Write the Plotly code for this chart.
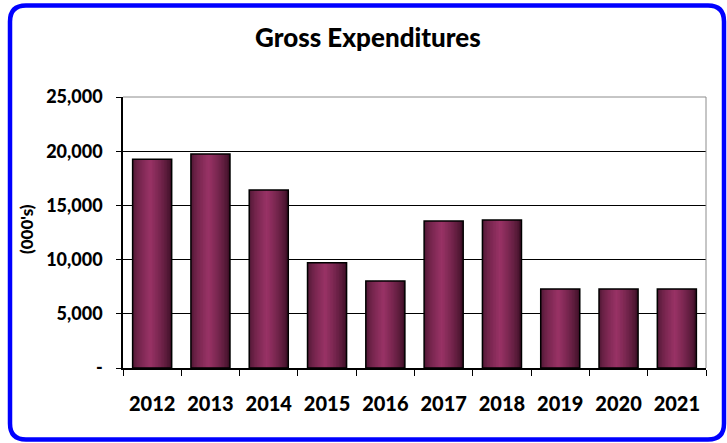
import plotly.graph_objects as go

# Gross expenditures by year, in thousands of dollars
years = ["2012", "2013", "2014", "2015", "2016", "2017", "2018", "2019", "2020", "2021"]
expenditures = [19250, 19740, 16420, 9700, 8030, 13560, 13650, 7290, 7290, 7290]

y_tick_values = [0, 5000, 10000, 15000, 20000, 25000]
y_tick_labels = ["-", "5,000", "10,000", "15,000", "20,000", "25,000"]

W, H = 727, 443
M_L, M_R, M_T, M_B = 123, 21, 97, 75
PW, PH = W - M_L - M_R, H - M_T - M_B

FONT = "Lato"
HEAVY = 900
BAR_W = 0.67
N_STRIPS = 26

BASE = (0x99, 0x33, 0x66)
DARK = (0x28, 0x08, 0x18)


def shade(t):
    # cylinder-style shading: dark edges, brightest a little left of centre
    peak = 0.45
    if t <= peak:
        f = 0.28 + 0.72 * (t / peak) ** 0.6
    else:
        f = 0.12 + 0.88 * ((1 - t) / (1 - peak)) ** 0.7
    f = max(0.0, min(1.0, f))
    r, g, b = (int(DARK[i] + (BASE[i] - DARK[i]) * f) for i in range(3))
    return f"rgb({r},{g},{b})"


fig = go.Figure()

step = BAR_W / N_STRIPS
for i in range(N_STRIPS):
    off = -BAR_W / 2 + i * step
    w = min(step * 1.8, BAR_W / 2 - off)
    t = (i + 0.5) / N_STRIPS
    fig.add_trace(go.Bar(
        x=years, y=expenditures, width=w, offset=off,
        marker=dict(color=shade(t), line=dict(width=0)),
        hoverinfo="skip", showlegend=False,
    ))

# outline of each bar
fig.add_trace(go.Bar(
    x=years, y=expenditures, width=BAR_W, offset=-BAR_W / 2,
    marker=dict(color="rgba(0,0,0,0)", line=dict(color="black", width=1.5)),
    name="Gross Expenditures", showlegend=False,
))


def px_x(px):
    return (px - M_L) / PW


def px_y(py):
    return (H - M_B - py) / PH


# rounded blue frame around the whole chart
x0, x1, y0, y1, rad = 10, 724, 5.5, 439.5, 16
path = (
    f"M {px_x(x0 + rad)},{px_y(y0)} L {px_x(x1 - rad)},{px_y(y0)} "
    f"Q {px_x(x1)},{px_y(y0)} {px_x(x1)},{px_y(y0 + rad)} "
    f"L {px_x(x1)},{px_y(y1 - rad)} "
    f"Q {px_x(x1)},{px_y(y1)} {px_x(x1 - rad)},{px_y(y1)} "
    f"L {px_x(x0 + rad)},{px_y(y1)} "
    f"Q {px_x(x0)},{px_y(y1)} {px_x(x0)},{px_y(y1 - rad)} "
    f"L {px_x(x0)},{px_y(y0 + rad)} "
    f"Q {px_x(x0)},{px_y(y0)} {px_x(x0 + rad)},{px_y(y0)} Z"
)

shapes = [
    dict(type="path", path=path, xref="paper", yref="paper",
         line=dict(color="#0000ff", width=4.5), layer="above"),
    # grey plot-area border on top and right
    dict(type="line", xref="paper", yref="paper", x0=0, x1=1, y0=1, y1=1,
         line=dict(color="#8c8c8c", width=1), layer="above"),
    dict(type="line", xref="paper", yref="paper", x0=1, x1=1, y0=0, y1=1,
         line=dict(color="#8c8c8c", width=1), layer="above"),
]

fig.update_layout(
    width=W, height=H,
    margin=dict(l=M_L, r=M_R, t=M_T, b=M_B, autoexpand=False),
    paper_bgcolor="white", plot_bgcolor="white",
    barmode="overlay",
    title=dict(text="Gross Expenditures", xref="container", x=0.506,
               yref="container", y=1 - 38 / H, xanchor="center", yanchor="middle",
               font=dict(family=FONT, size=26, weight=HEAVY, color="black")),
    shapes=shapes,
    annotations=[dict(text="(000's)", xref="paper", yref="paper",
                      x=px_x(26), y=px_y(229), xanchor="center", yanchor="middle",
                      textangle=-90, showarrow=False,
                      font=dict(family=FONT, size=17, weight=HEAVY, color="black"))],
    font=dict(family=FONT, color="black"),
)

fig.update_xaxes(
    type="category", tickson="boundaries", ticks="outside", ticklen=6,
    tickcolor="black", showline=True, linecolor="black", linewidth=1.5,
    showgrid=False, tickfont=dict(family=FONT, size=20, weight=HEAVY, color="black"),
    ticklabelstandoff=17,
)
fig.update_yaxes(
    range=[0, 25000], tickvals=y_tick_values, ticktext=y_tick_labels,
    ticks="outside", ticklen=5, tickcolor="black", showline=True, linecolor="black",
    linewidth=1.5, showgrid=True, gridcolor="black", gridwidth=1, zeroline=False,
    tickfont=dict(family=FONT, size=18, weight=HEAVY, color="black"), ticklabelstandoff=10,
)

fig.write_html("out.html")
